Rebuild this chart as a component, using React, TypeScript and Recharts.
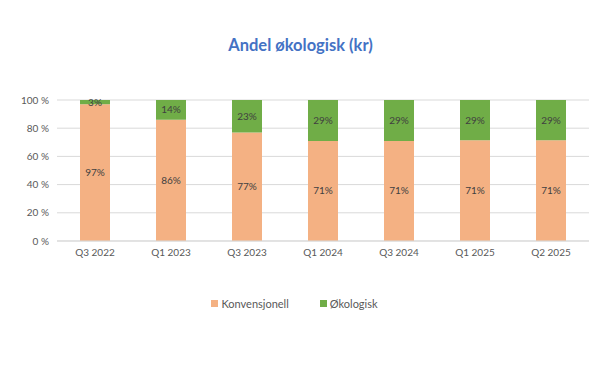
import React from 'react';
import { BarChart, Bar, XAxis, YAxis, CartesianGrid, Legend, LabelList } from 'recharts';

const periods = ['Q3 2022', 'Q1 2023', 'Q3 2023', 'Q1 2024', 'Q3 2024', 'Q1 2025', 'Q2 2025'];
const konvensjonell = [97, 86, 77, 71, 71, 71.4, 71.4];
const okologisk = [3, 14, 23, 29, 29, 28.6, 28.6];
const yTicks = [0, 20, 40, 60, 80, 100];

const data = periods.map((p, i) => ({
  period: p,
  konv: konvensjonell[i],
  oko: okologisk[i],
}));

const font = 'Lato, "Open Sans", sans-serif';
const pct = (v: any) => `${Math.round(Number(v))}%`;

// legend items laid out like the original: square + label, wide gap between
const LegendRow = (props: any) => (
  <div style={{ display: 'flex', justifyContent: 'center', paddingRight: 22, fontSize: 11, color: '#595959', fontFamily: font }}>
    {(props.payload || []).map((item: any, i: number) => (
      <div key={i} style={{ display: 'flex', alignItems: 'center', marginLeft: i ? 31 : 0 }}>
        <span style={{ width: 7, height: 7, background: item.color, marginRight: 3, display: 'inline-block' }} />
        <span>{item.value}</span>
      </div>
    ))}
  </div>
);

export default function App() {
  return (
    <div style={{ position: 'absolute', left: 0, top: 0, width: 611, height: 375, background: '#fff', fontFamily: font }}>
      <div style={{ position: 'absolute', top: 35, left: -5, width: 611, textAlign: 'center', color: '#4472C4', fontSize: 16.5, fontWeight: 700 }}>
        Andel økologisk (kr)
      </div>
      <BarChart
        width={611}
        height={375}
        data={data}
        margin={{ top: 100, right: 22, bottom: 101, left: 0 }}
      >
        <CartesianGrid vertical={false} stroke="#D9D9D9" />
        <XAxis
          dataKey="period"
          tickLine={false}
          axisLine={{ stroke: '#D9D9D9' }}
          tick={{ fontSize: 10, fill: '#595959', fontFamily: font }}
          height={20}
        />
        <YAxis
          width={57}
          domain={[0, 100]}
          ticks={yTicks}
          tickLine={false}
          axisLine={false}
          tickFormatter={(v) => `${v} %`}
          tick={{ fontSize: 10, fill: '#595959', fontFamily: font }}
        />
        <Legend
          verticalAlign="bottom"
          content={<LegendRow />}
          wrapperStyle={{ top: 297, left: 0, width: 611 }}
        />
        <Bar dataKey="konv" name="Konvensjonell" stackId="a" fill="#F4B183" barSize={30} isAnimationActive={false}>
          <LabelList dataKey="konv" position="center" formatter={pct} style={{ fill: '#404040', fontSize: 10, fontFamily: font }} />
        </Bar>
        <Bar dataKey="oko" name="Økologisk" stackId="a" fill="#70AD47" barSize={30} isAnimationActive={false}>
          <LabelList dataKey="oko" position="center" formatter={pct} style={{ fill: '#404040', fontSize: 10, fontFamily: font }} />
        </Bar>
      </BarChart>
    </div>
  );
}
